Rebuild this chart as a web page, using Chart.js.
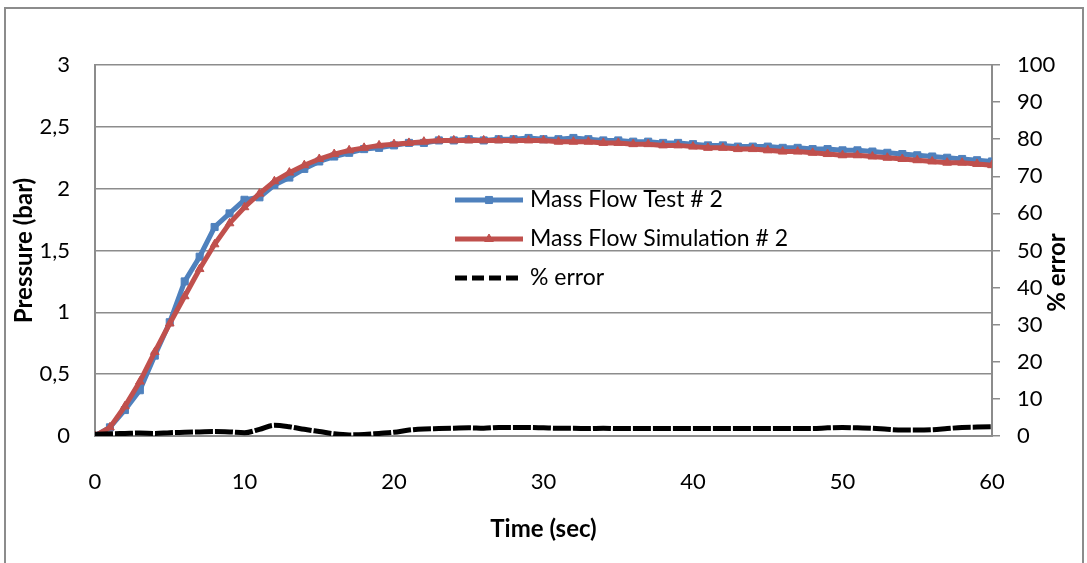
<!DOCTYPE html>
<html>
<head>
<meta charset="utf-8">
<title>Mass flow test 2</title>
<script src="https://cdn.jsdelivr.net/npm/chart.js@4.4.1/dist/chart.umd.min.js"></script>
<style>
  html, body { margin: 0; padding: 0; background: #fff; }
  canvas { display: block; }
</style>
</head>
<body>
<canvas id="chart" width="1087" height="563"></canvas>
<script>
// time base, one sample per second
const seconds = [
  0, 1, 2, 3, 4, 5, 6, 7, 8, 9, 10, 11, 12, 13, 14, 15, 16, 17, 18, 19,
  20, 21, 22, 23, 24, 25, 26, 27, 28, 29, 30, 31, 32, 33, 34, 35, 36, 37, 38, 39,
  40, 41, 42, 43, 44, 45, 46, 47, 48, 49, 50, 51, 52, 53, 54, 55, 56, 57, 58, 59, 60
]

// measured pressure (bar)
const testPressure = [
  0, 0.07, 0.21, 0.37, 0.65, 0.92, 1.25, 1.45, 1.69, 1.80, 1.91, 1.93, 2.03, 2.09, 2.16, 2.22, 2.26, 2.29, 2.32, 2.33,
  2.35, 2.37, 2.37, 2.39, 2.39, 2.40, 2.39, 2.40, 2.40, 2.41, 2.40, 2.40, 2.41, 2.40, 2.39, 2.39, 2.38, 2.38, 2.37, 2.37,
  2.36, 2.35, 2.35, 2.34, 2.34, 2.34, 2.33, 2.33, 2.32, 2.32, 2.31, 2.31, 2.30, 2.29, 2.28, 2.27, 2.26, 2.25, 2.24, 2.23, 2.22
]

// simulated pressure (bar)
const simPressure = [
  0, 0.07, 0.24, 0.44, 0.68, 0.91, 1.13, 1.35, 1.55, 1.72, 1.85, 1.96, 2.06, 2.13, 2.19, 2.24, 2.28, 2.31, 2.33, 2.35,
  2.36, 2.37, 2.38, 2.39, 2.39, 2.39, 2.39, 2.39, 2.39, 2.39, 2.39, 2.38, 2.38, 2.38, 2.37, 2.37, 2.36, 2.36, 2.35, 2.35,
  2.34, 2.33, 2.33, 2.32, 2.32, 2.31, 2.30, 2.30, 2.29, 2.28, 2.27, 2.27, 2.26, 2.25, 2.24, 2.23, 2.22, 2.21, 2.21, 2.20, 2.19
]

// % error between test and simulation
const errorPct = [
  0.5, 0.6, 0.7, 0.8, 0.7, 0.9, 1.0, 1.1, 1.2, 1.1, 0.9, 1.8, 2.9, 2.5, 1.8, 1.2, 0.6, 0.3, 0.4, 0.7,
  1.0, 1.6, 1.9, 2.0, 2.1, 2.2, 2.1, 2.3, 2.3, 2.3, 2.2, 2.1, 2.1, 2.0, 2.1, 2.0, 2.0, 2.0, 2.0, 2.0,
  2.0, 2.0, 2.0, 2.0, 2.0, 2.0, 2.0, 2.0, 2.0, 2.2, 2.3, 2.2, 2.1, 1.8, 1.6, 1.6, 1.7, 2.0, 2.3, 2.4, 2.5
]

const pressureTicks = [0, 0.5, 1, 1.5, 2, 2.5, 3]
const errorTicks = [0, 10, 20, 30, 40, 50, 60, 70, 80, 90, 100]

const FONT = 'Lato, "Open Sans", sans-serif'
const GRID = '#8c8c8c'

const points = (arr) => arr.map((v, i) => ({ x: seconds[i], y: v }))

// grey frame round the whole chart
const outerFrame = {
  id: 'outerFrame',
  beforeDraw(chart) {
    const ctx = chart.ctx
    ctx.save()
    ctx.fillStyle = '#fff'
    ctx.fillRect(0, 0, chart.width, chart.height)
    ctx.strokeStyle = GRID
    ctx.lineWidth = 2
    ctx.strokeRect(5, 8, 1078, 600)
    ctx.restore()
  }
}

// right axis title reads bottom-to-top like the left one
const rightTitle = {
  id: 'rightTitle',
  afterDraw(chart) {
    const ctx = chart.ctx
    const y2 = chart.scales.y2
    ctx.save()
    ctx.translate(y2.right - 30, (chart.chartArea.top + chart.chartArea.bottom) / 2 + 22)
    ctx.rotate(-Math.PI / 2)
    ctx.font = 'bold 24px ' + FONT
    ctx.fillStyle = '#000'
    ctx.textAlign = 'center'
    ctx.textBaseline = 'middle'
    ctx.fillText('% error', 0, 0)
    ctx.restore()
  }
}

// legend drawn inside the plot: line sample with its marker, then the label
const lineLegend = {
  id: 'lineLegend',
  afterDatasetsDraw(chart) {
    const ctx = chart.ctx
    const x0 = 455, x1 = 523, top = 200, step = 39
    chart.data.datasets.forEach((ds, i) => {
      const y = top + i * step
      ctx.save()
      ctx.strokeStyle = ds.borderColor
      ctx.lineWidth = ds.borderWidth
      ctx.setLineDash(ds.legendDash || [])
      ctx.beginPath()
      ctx.moveTo(x0, y)
      ctx.lineTo(x1, y)
      ctx.stroke()
      ctx.setLineDash([])
      if (ds.pointRadius > 0) {
        ctx.fillStyle = ds.backgroundColor
        ctx.strokeStyle = ds.borderColor
        ctx.lineWidth = 1
        Chart.helpers.drawPoint(ctx, { pointStyle: ds.pointStyle, radius: ds.pointRadius, borderWidth: 1, rotation: 0 }, (x0 + x1) / 2, y)
      }
      ctx.font = '23px ' + FONT
      ctx.fillStyle = '#000'
      ctx.textAlign = 'left'
      ctx.textBaseline = 'middle'
      ctx.fillText(ds.label, 530, y)
      ctx.restore()
    })
  }
}

const canvas = document.getElementById('chart')

new Chart(canvas, {
  type: 'line',
  data: {
    datasets: [
      {
        label: 'Mass Flow Test # 2',
        data: points(testPressure),
        yAxisID: 'y',
        borderColor: '#4F81BD',
        backgroundColor: '#4F81BD',
        borderWidth: 5,
        pointStyle: 'rect',
        pointRadius: 5,
        pointBorderWidth: 1,
        tension: 0,
        order: 3
      },
      {
        label: 'Mass Flow Simulation # 2',
        data: points(simPressure),
        yAxisID: 'y',
        borderColor: '#C0504D',
        backgroundColor: '#C0504D',
        borderWidth: 5,
        pointStyle: 'triangle',
        pointRadius: 5,
        pointBorderWidth: 1,
        tension: 0,
        order: 2
      },
      {
        label: '% error',
        data: points(errorPct),
        yAxisID: 'y2',
        borderColor: '#000',
        backgroundColor: '#000',
        borderWidth: 5,
        borderDash: [18, 2],
        legendDash: [12, 5],
        pointRadius: 0,
        cubicInterpolationMode: 'monotone',
        order: 1
      }
    ]
  },
  options: {
    responsive: false,
    animation: false,
    layout: { padding: { top: 65, left: 0, right: 0, bottom: 0 } },
    plugins: {
      legend: { display: false },
      tooltip: { enabled: false }
    },
    scales: {
      x: {
        type: 'linear',
        min: 0,
        max: 60,
        afterFit: (s) => { s.height = 127 },
        grid: { display: false },
        border: { display: true, color: GRID, width: 2 },
        ticks: {
          stepSize: 10,
          padding: 25,
          color: '#000',
          font: { family: FONT, size: 22 }
        },
        title: {
          display: true,
          text: 'Time (sec)',
          color: '#000',
          font: { family: FONT, size: 24, weight: 'bold' },
          padding: { top: 0, bottom: 19 }
        }
      },
      y: {
        position: 'left',
        min: 0,
        max: 3,
        afterFit: (s) => { s.width = 95 },
        afterBuildTicks: (s) => { s.ticks = pressureTicks.map(v => ({ value: v })) },
        grid: { color: GRID, lineWidth: 1.5, drawTicks: false },
        border: { display: true, color: GRID, width: 2 },
        ticks: {
          padding: 25,
          color: '#000',
          font: { family: FONT, size: 22 },
          callback: (v) => String(v).replace('.', ',')
        },
        title: {
          display: true,
          text: 'Pressure (bar)',
          color: '#000',
          font: { family: FONT, size: 24, weight: 'bold' },
          padding: { top: 10, bottom: 0 }
        }
      },
      y2: {
        position: 'right',
        min: 0,
        max: 100,
        afterFit: (s) => { s.width = 95 },
        afterBuildTicks: (s) => { s.ticks = errorTicks.map(v => ({ value: v })) },
        grid: { drawOnChartArea: false, color: GRID, lineWidth: 1.5, tickLength: 8 },
        border: { display: true, color: GRID, width: 2 },
        ticks: {
          padding: 17,
          color: '#000',
          font: { family: FONT, size: 22 }
        }
      }
    }
  },
  plugins: [outerFrame, rightTitle, lineLegend]
})
</script>
</body>
</html>
